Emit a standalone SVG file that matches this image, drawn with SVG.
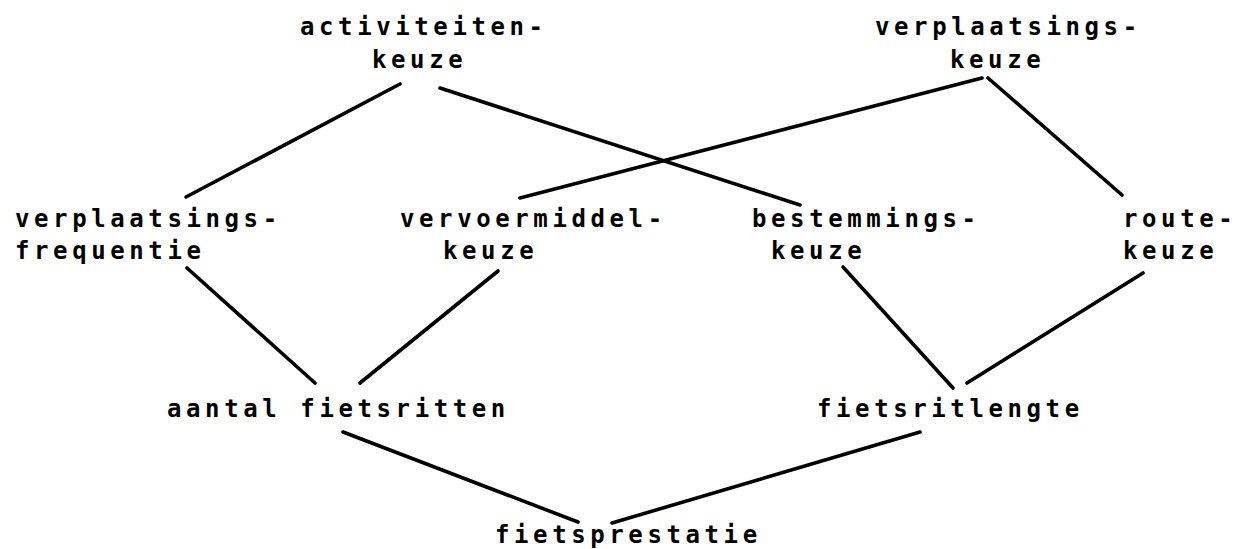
<svg xmlns="http://www.w3.org/2000/svg" width="1235" height="549" viewBox="0 0 1235 549">
<style>
text{font-family:"DejaVu Sans Mono","Liberation Mono",monospace;font-weight:bold;font-size:24px;letter-spacing:4.6px;fill:#000}
.c line{stroke:#000;stroke-width:3.6;stroke-linecap:round}
</style>
<rect width="1235" height="549" fill="#fff"/>
<g class="c" id="connectors">
<line x1="400" y1="84" x2="186" y2="197"/>
<line x1="440" y1="88" x2="800" y2="205"/>
<line x1="982" y1="78" x2="520" y2="198"/>
<line x1="988" y1="78" x2="1122" y2="195"/>
<line x1="187" y1="268" x2="315" y2="383"/>
<line x1="498" y1="271" x2="360" y2="383"/>
<line x1="843" y1="267" x2="953" y2="388"/>
<line x1="1143" y1="273" x2="967" y2="383"/>
<line x1="343" y1="432" x2="578" y2="522"/>
<line x1="920" y1="432" x2="612" y2="523"/>
</g>
<g id="activiteitenkeuze"><text x="300" y="35">activiteiten-</text><text x="372" y="68">keuze</text></g>
<g id="verplaatsingskeuze"><text x="875" y="35">verplaatsings-</text><text x="950" y="68">keuze</text></g>
<g id="verplaatsingsfrequentie"><text x="15" y="227">verplaatsings-</text><text x="15" y="259">frequentie</text></g>
<g id="vervoermiddelkeuze"><text x="400" y="227">vervoermiddel-</text><text x="443" y="259">keuze</text></g>
<g id="bestemmingskeuze"><text x="752" y="227">bestemmings-</text><text x="771" y="259">keuze</text></g>
<g id="routekeuze"><text x="1123" y="227">route-</text><text x="1123" y="259">keuze</text></g>
<g id="aantalfietsritten"><text x="167" y="417">aantal fietsritten</text></g>
<g id="fietsritlengte"><text x="817" y="417">fietsritlengte</text></g>
<g id="fietsprestatie"><text x="495" y="543">fietsprestatie</text></g>
</svg>
